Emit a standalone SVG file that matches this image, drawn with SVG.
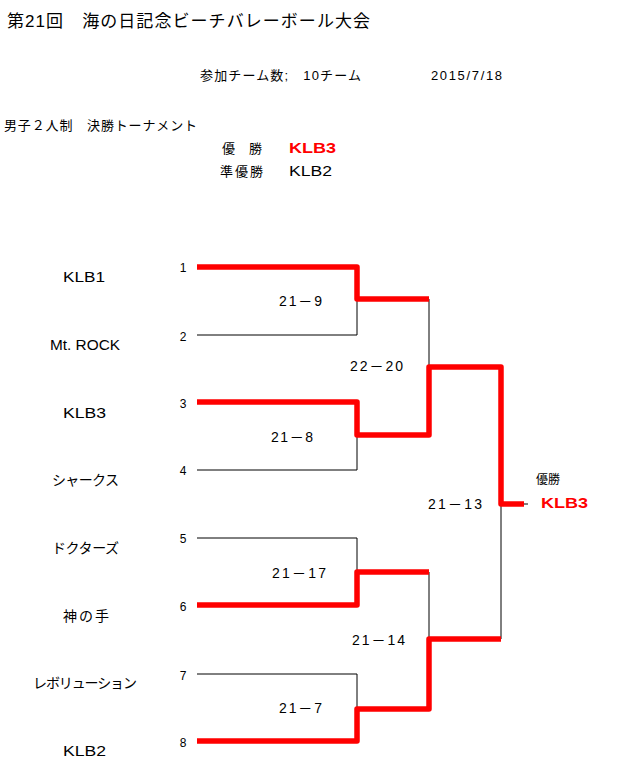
<svg xmlns="http://www.w3.org/2000/svg" width="633" height="778" viewBox="0 0 633 778">
<style>
text{font-family:"Liberation Sans","Noto Sans CJK JP",sans-serif;fill:#000}
.t13{font-size:13px}
.team{font-size:14px}
.seed{font-size:12px;text-anchor:middle}
.score{font-size:14px}
.red{fill:#ff0000;font-weight:bold}
.thin{stroke:#000;stroke-width:1;fill:none}
.win{stroke:#ff0000;stroke-width:5.5;fill:none;stroke-linejoin:round}
</style>
<rect width="633" height="778" fill="#fff"/>
<g id="header">
<text x="7" y="27" font-size="17" textLength="363">第21回　海の日記念ビーチバレーボール大会</text>
<text x="200" y="80" class="t13" textLength="161">参加チーム数;　10チーム</text>
<text x="431" y="80" class="t13" textLength="71">2015/7/18</text>
<text x="4" y="130" class="t13" textLength="193">男子２人制　決勝トーナメント</text>
<text x="222" y="153" class="t13" textLength="40">優　勝</text>
<text x="289" y="153" font-size="15" class="red" textLength="47" lengthAdjust="spacingAndGlyphs">KLB3</text>
<text x="220" y="176" class="t13" textLength="43">準優勝</text>
<text x="289" y="176" font-size="14" textLength="43" lengthAdjust="spacingAndGlyphs">KLB2</text>
</g>
<g id="teams">
<g id="team1"><text x="63" y="282" class="team" textLength="42" lengthAdjust="spacingAndGlyphs">KLB1</text><text x="183" y="272" class="seed">1</text></g>
<g id="team2"><text x="50" y="350" class="team" textLength="70" lengthAdjust="spacingAndGlyphs">Mt. ROCK</text><text x="183" y="341" class="seed">2</text></g>
<g id="team3"><text x="63" y="418" class="team" textLength="43" lengthAdjust="spacingAndGlyphs">KLB3</text><text x="183" y="408" class="seed">3</text></g>
<g id="team4"><text x="52" y="485" class="team" textLength="67">シャークス</text><text x="183" y="475" class="seed">4</text></g>
<g id="team5"><text x="52" y="553" class="team" textLength="67">ドクターズ</text><text x="183" y="543" class="seed">5</text></g>
<g id="team6"><text x="63" y="621" class="team" textLength="46">神の手</text><text x="183" y="611" class="seed">6</text></g>
<g id="team7"><text x="33" y="688" class="team" textLength="104">レボリューション</text><text x="183" y="680" class="seed">7</text></g>
<g id="team8"><text x="63" y="756" class="team" textLength="43" lengthAdjust="spacingAndGlyphs">KLB2</text><text x="183" y="747" class="seed">8</text></g>
</g>
<g id="connectors">
<path class="thin" d="M197 335H357V299M197 470H357V435M429 299V367M197 538H357V572M197 674H357V709M429 572V639M501 504V639M524 504H528"/>
<path class="win" d="M197 267H357V299H429"/>
<path class="win" d="M197 402H357V435H429V367H501V504H524"/>
<path class="win" d="M197 605H357V572H429"/>
<path class="win" d="M197 741H357V709H429V639H501"/>
</g>
<g id="scores">
<text x="279" y="306" class="score" textLength="43">21－9</text>
<text x="271" y="442" class="score" textLength="42">21－8</text>
<text x="350" y="371" class="score" textLength="53">22－20</text>
<text x="428" y="509" class="score" textLength="54">21－13</text>
<text x="272" y="578" class="score" textLength="54">21－17</text>
<text x="352" y="645" class="score" textLength="53">21－14</text>
<text x="279" y="713" class="score" textLength="43">21－7</text>
</g>
<g id="champion">
<text x="536" y="484" font-size="12">優勝</text>
<text x="541" y="508" font-size="15" class="red" textLength="47" lengthAdjust="spacingAndGlyphs">KLB3</text>
</g>
</svg>
